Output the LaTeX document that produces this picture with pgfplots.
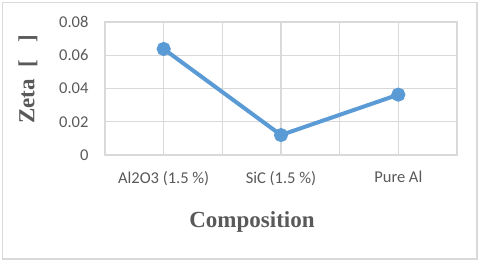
\documentclass[border=0pt]{standalone}
\usepackage{fontspec}
\setmainfont{Carlito}
\newfontfamily\tnr{Liberation Serif}
\usepackage{pgfplots}
\pgfplotsset{compat=1.18}
\definecolor{txt}{HTML}{595959}
\definecolor{gridc}{HTML}{D9D9D9}
\definecolor{lineb}{HTML}{5B9BD5}
\begin{document}
\begin{tikzpicture}[x=1pt,y=1pt]
\begin{axis}[
  scale only axis, width=352pt, height=133pt,
  xmin=-0.5, xmax=2.5, ymin=0, ymax=0.08,
  xtick={0,1,2},
  xticklabels={Al2O3 (1.5 \%), SiC (1.5 \%), Pure Al},
  minor xtick={-0.5,0.5,1.5,2.5},
  ytick={0,0.02,0.04,0.06,0.08},
  yticklabels={0,0.02,0.04,0.06,0.08},
  scaled y ticks=false,
  grid=both,
  major grid style={gridc, line width=1.3pt},
  minor grid style={gridc, line width=1.3pt},
  axis line style={gridc, line width=1.3pt},
  major tick length=0pt, minor tick length=0pt,
  tick label style={font=\fontsize{16.5}{19}\selectfont, text=txt},
  /pgf/number format/assume math mode=true,
  xticklabel style={yshift=-13pt},
  yticklabel style={xshift=-13pt},
  xlabel={Composition},
  ylabel={Zeta\ \ [\ \ \ ]},
  xlabel style={at={(axis description cs:0.5,0)}, anchor=center, xshift=-29pt, yshift=-67pt, font=\tnr\bfseries\fontsize{23}{26}\selectfont, text=txt},
  ylabel style={at={(axis description cs:0,0.5)}, anchor=center, xshift=9pt, yshift=77pt, font=\tnr\bfseries\fontsize{23}{26}\selectfont, text=txt},
  clip=false,
]
\addplot[lineb, line width=4pt, mark=*, mark size=5pt, mark options={fill=lineb, draw=none}]
  coordinates {(0,0.0638) (1,0.0120) (2,0.0363)};
\end{axis}
\pgfresetboundingbox
\useasboundingbox (-105,-107) rectangle (375,155);
\draw[gridc, line width=1.2pt] (-102.5,-104) rectangle (372,152.5);
\end{tikzpicture}
\end{document}
